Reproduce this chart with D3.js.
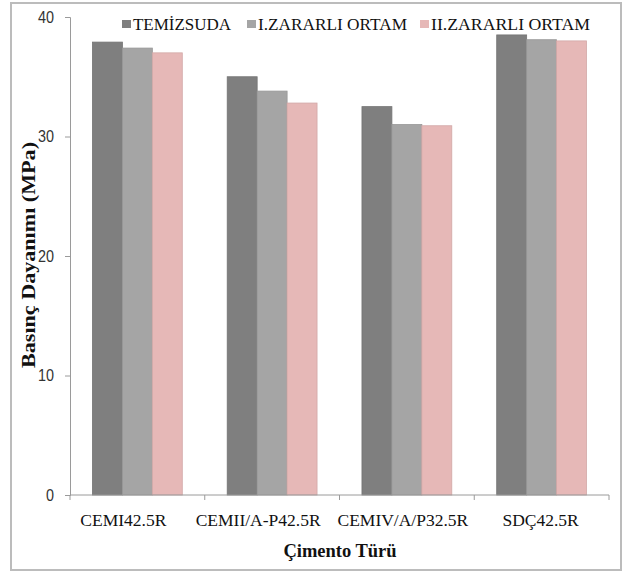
<!DOCTYPE html>
<html>
<head>
<meta charset="utf-8">
<script src="https://cdn.jsdelivr.net/npm/d3@7"></script>
<style>
  body { margin: 0; background: #fff; }
  svg { display: block; }
</style>
</head>
<body>
<svg width="625" height="575"></svg>
<script>
// veriler
let categories = ["CEMI42.5R", "CEMII/A-P42.5R", "CEMIV/A/P32.5R", "SDÇ42.5R"];
let seriesNames = ["TEMİZSUDA", "I.ZARARLI ORTAM", "II.ZARARLI ORTAM"];
let temizSuda = [37.9, 35.0, 32.5, 38.5];
let zararli1 = [37.4, 33.8, 31.0, 38.1];
let zararli2 = [37.0, 32.8, 30.9, 38.0];
let yTicks = [0, 10, 20, 30, 40];
let colors = ["#7f7f7f", "#a5a5a5", "#e6b8b7"];

let allSeries = [temizSuda, zararli1, zararli2];
let serif = "font-family: 'Liberation Serif', 'Times New Roman', serif;";

let s = d3.select("svg");

// dış çerçeve
s.append("rect")
    .attr("x", 11).attr("y", 3)
    .attr("width", 610).attr("height", 567)
    .attr("fill", "none")
    .attr("stroke", "#bcbcbc")
    .attr("stroke-width", 2);

let pLeft = 70, pRight = 609, pTop = 17, pBottom = 495;

let x0 = d3.scaleBand()
    .domain(categories)
    .range([pLeft, pRight])
    .paddingInner(1 / 3)
    .paddingOuter(1 / 6);

let x1 = d3.scaleBand()
    .domain(d3.range(seriesNames.length))
    .range([0, x0.bandwidth()]);

let y = d3.scaleLinear()
    .domain([0, 40])
    .range([pBottom, pTop]);

// barlar
categories.forEach((c, i) => {
    let g = s.append("g")
        .attr("transform", "translate(" + x0(c) + ",0)");
    allSeries.forEach((arr, k) => {
        g.append("rect")
            .attr("x", x1(k))
            .attr("y", y(arr[i]))
            .attr("width", x1.bandwidth())
            .attr("height", y(0) - y(arr[i]))
            .attr("fill", colors[k])
            .attr("stroke", d3.color(colors[k]).darker(0.25))
            .attr("stroke-width", 0.8);
    });
});

// y ekseni
let yAxis = s.append("g")
    .attr("transform", "translate(" + pLeft + ",0)")
    .call(d3.axisLeft(y).tickValues(yTicks).tickSize(5).tickPadding(11));
yAxis.select(".domain").attr("stroke", "#9a9a9a");
yAxis.selectAll(".tick line").attr("stroke", "#9a9a9a");
yAxis.selectAll(".tick text")
    .attr("style", "font-family: 'Liberation Sans', Arial; font-size: 17px")
    .attr("textLength", d => String(d).length * 8)
    .attr("lengthAdjust", "spacingAndGlyphs")
    .attr("fill", "#333");

// x ekseni
let step = x0.step();
let xTickPos = d3.range(categories.length + 1).map(i => pLeft + i * step);
let xAxis = s.append("g");
xAxis.append("line")
    .attr("x1", pLeft).attr("x2", pRight)
    .attr("y1", pBottom).attr("y2", pBottom)
    .attr("stroke", "#9a9a9a");
xAxis.selectAll(".xt")
    .data(xTickPos)
    .enter().append("line")
    .attr("x1", d => d).attr("x2", d => d)
    .attr("y1", pBottom).attr("y2", pBottom + 5)
    .attr("stroke", "#9a9a9a");

// etiketler orijinalde biraz sola kaymış
let labelShift = [-14, -14, -4, -1];
xAxis.selectAll(".xl")
    .data(categories)
    .enter().append("text")
    .attr("x", (d, i) => x0(d) + x0.bandwidth() / 2 + labelShift[i])
    .attr("y", 526)
    .attr("text-anchor", "middle")
    .attr("style", serif + " font-size: 17.5px")
    .attr("fill", "#111")
    .text(d => d);

// eksen başlıkları
s.append("text")
    .attr("x", 340)
    .attr("y", 557)
    .attr("text-anchor", "middle")
    .attr("style", serif + " font-size: 18.5px; font-weight: bold")
    .attr("fill", "#111")
    .text("Çimento Türü");

s.append("text")
    .attr("transform", "translate(35,255) rotate(-90)")
    .attr("text-anchor", "middle")
    .attr("textLength", 226)
    .attr("lengthAdjust", "spacingAndGlyphs")
    .attr("style", serif + " font-size: 18px; font-weight: bold")
    .attr("fill", "#111")
    .text("Basınç Dayanımı (MPa)");

// lejant
let legX = [122, 247, 420];
let legW = [98, 149, 159];
seriesNames.forEach((n, k) => {
    s.append("rect")
        .attr("x", legX[k]).attr("y", 20)
        .attr("width", 9).attr("height", 8)
        .attr("fill", colors[k]);
    s.append("text")
        .attr("x", legX[k] + 11)
        .attr("y", 30)
        .attr("textLength", legW[k])
        .attr("lengthAdjust", "spacingAndGlyphs")
        .attr("style", serif + " font-size: 16px")
        .attr("fill", "#111")
        .text(n);
});
</script>
</body>
</html>
